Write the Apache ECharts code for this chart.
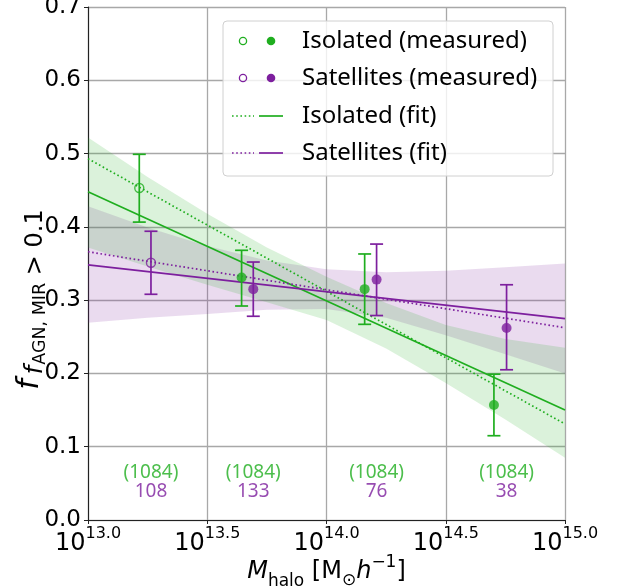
<!DOCTYPE html>
<html><head><meta charset="utf-8">
<script src="https://cdn.jsdelivr.net/npm/echarts@6/dist/echarts.min.js"></script>
<style>html,body{margin:0;padding:0;background:#fff}#c{width:624px;height:588px}</style>
</head><body><div id="c"></div>
<script>
// ---- data (log10 halo mass, fraction) ----
const xTicks = [13.0, 13.5, 14.0, 14.5, 15.0];
const yTicks = [0.0, 0.1, 0.2, 0.3, 0.4, 0.5, 0.6, 0.7];

const isoX  = [13.215, 13.644, 14.160, 14.702];
const isoY  = [0.453, 0.331, 0.315, 0.157];
const isoLo = [0.4065, 0.292, 0.267, 0.115];
const isoHi = [0.499, 0.368, 0.363, 0.199];

const satX  = [13.264, 13.693, 14.210, 14.755];
const satY  = [0.351, 0.315, 0.328, 0.262];
const satLo = [0.308, 0.278, 0.279, 0.205];
const satHi = [0.394, 0.352, 0.3765, 0.321];

const openFlag = [true, false, false, false];

const fitX = [13.0, 15.0];
const isoFitAll = [0.493, 0.131];   // dotted
const isoFit    = [0.448, 0.150];   // solid
const satFitAll = [0.366, 0.2624];  // dotted
const satFit    = [0.348, 0.2747];  // solid

const bandX     = [13.0, 13.25, 13.5, 13.75, 14.0, 14.25, 14.5, 14.75, 15.0];
const isoBandHi = [0.522, 0.468, 0.418, 0.372, 0.332, 0.296, 0.266, 0.247, 0.235];
const isoBandLo = [0.372, 0.346, 0.321, 0.297, 0.273, 0.234, 0.187, 0.137, 0.085];
const satBandHi = [0.428, 0.399, 0.374, 0.354, 0.342, 0.338, 0.340, 0.345, 0.350];
const satBandLo = [0.269, 0.276, 0.281, 0.287, 0.288, 0.276, 0.252, 0.226, 0.200];

const isoCounts = ['(1084)', '(1084)', '(1084)', '(1084)'];
const satCounts = ['108', '133', '76', '38'];

const legendLabels = ['Isolated (measured)', 'Satellites (measured)', 'Isolated (fit)', 'Satellites (fit)'];

// ---- styles ----
const GREEN = '#1fae1f';
const PURPLE = '#7d1f9e';
const isoCountY = 0.0645, satCountY = 0.0386;

const chart = echarts.init(document.getElementById('c'), null, {renderer: 'canvas'});

function bandSeries(xs, lo, hi, color, opacity) {
  return {
    type: 'custom', silent: true, z: 1, clip: true,
    data: [0],
    renderItem: function (params, api) {
      const pts = [];
      for (let i = 0; i < xs.length; i++) pts.push(api.coord([xs[i], hi[i]]));
      for (let i = xs.length - 1; i >= 0; i--) pts.push(api.coord([xs[i], lo[i]]));
      return {type: 'polygon', shape: {points: pts}, style: {fill: color, opacity: opacity}};
    }
  };
}
function lineSeries(ys, color, dotted) {
  return {
    type: 'line', silent: true, z: 3, symbol: 'none',
    data: fitX.map((x, i) => [x, ys[i]]),
    lineStyle: {color: color, width: 1.7, type: dotted ? [1.6, 2.6] : 'solid'}
  };
}
function errSeries(xs, lo, hi, color) {
  return {
    type: 'custom', silent: true, z: 4,
    data: xs.map((x, i) => [x, lo[i], hi[i]]),
    encode: {x: 0, y: [1, 2]},
    renderItem: function (params, api) {
      const x = api.value(0);
      const a = api.coord([x, api.value(1)]);
      const b = api.coord([x, api.value(2)]);
      const w = 6.5, st = {stroke: color, lineWidth: 1.7};
      return {type: 'group', children: [
        {type: 'line', shape: {x1: a[0], y1: a[1], x2: b[0], y2: b[1]}, style: st},
        {type: 'line', shape: {x1: a[0] - w, y1: a[1], x2: a[0] + w, y2: a[1]}, style: st},
        {type: 'line', shape: {x1: b[0] - w, y1: b[1], x2: b[0] + w, y2: b[1]}, style: st}
      ]};
    }
  };
}
function pointSeries(xs, ys, color) {
  return {
    type: 'scatter', silent: true, z: 5,
    data: xs.map((x, i) => ({
      value: [x, ys[i]],
      symbolSize: openFlag[i] ? 9 : 10,
      itemStyle: openFlag[i] ? {color: 'rgba(0,0,0,0)', borderColor: color, borderWidth: 1.4} : {color: color}
    }))
  };
}
function countSeries(labels, yv, color) {
  return {
    type: 'scatter', silent: true, z: 6, symbolSize: 0,
    data: satX.map((x, i) => ({value: [x, yv], name: labels[i]})),
    label: {show: true, position: 'inside', formatter: p => p.name, color: color,
      fontFamily: 'Noto Sans', fontSize: 19}
  };
}

// ---- legend (graphic) ----
const L = {x: 223, y: 21, w: 330, h: 155, rows: [41, 78, 116, 153], m1: 243, m2: 271, tx: 302};
const LZ = 100;
const legendChildren = [
  {type: 'rect', z: LZ, shape: {x: L.x, y: L.y, width: L.w, height: L.h, r: 4},
   style: {fill: 'rgba(255,255,255,0.8)', stroke: '#d0d0d0', lineWidth: 1}}
];
const legendColors = [GREEN, PURPLE, GREEN, PURPLE];
legendLabels.forEach((t, i) => {
  const cy = L.rows[i], col = legendColors[i];
  if (i < 2) {
    legendChildren.push({type: 'circle', z: LZ + 1, shape: {cx: L.m1, cy: cy, r: 3.6}, style: {fill: 'none', stroke: col, lineWidth: 1.3}});
    legendChildren.push({type: 'circle', z: LZ + 1, shape: {cx: L.m2, cy: cy, r: 4.3}, style: {fill: col}});
  } else {
    legendChildren.push({type: 'line', z: LZ + 1, shape: {x1: 232, y1: cy, x2: 254, y2: cy}, style: {stroke: col, lineWidth: 1.6, lineDash: [1.6, 2.6]}});
    legendChildren.push({type: 'line', z: LZ + 1, shape: {x1: 259, y1: cy, x2: 283, y2: cy}, style: {stroke: col, lineWidth: 1.7}});
  }
  legendChildren.push({type: 'text', z: LZ + 1, x: L.tx, y: cy, style: {text: t, fill: '#000', font: '24px "Noto Sans"', textVerticalAlign: 'middle', textAlign: 'left'}});
});

const option = {
  backgroundColor: '#fff',
  animation: false,
  grid: {left: 88, right: 59, top: 7, bottom: 68, containLabel: false, outerBoundsMode: 'none'},
  xAxis: {
    type: 'value', min: xTicks[0], max: xTicks[xTicks.length - 1], interval: 0.5,
    axisLine: {show: true, onZero: false, lineStyle: {color: '#222', width: 1.1}},
    axisTick: {show: true, inside: false, length: 4, lineStyle: {color: '#222'}},
    splitLine: {show: true, lineStyle: {color: '#a8a8a8', width: 1.3}},
    axisLabel: {
      margin: 12, color: '#000', hideOverlap: false,
      formatter: v => '{b|10}{p|' + v.toFixed(1) + '}',
      rich: {
        b: {fontFamily: 'DejaVu Sans', fontSize: 24, lineHeight: 24, padding: [8, 0, 0, 0], verticalAlign: 'bottom', color: '#000'},
        p: {fontFamily: 'DejaVu Sans', fontSize: 16, lineHeight: 16, padding: [0, 0, 14, 0], verticalAlign: 'bottom', color: '#000'}
      }
    },
    name: '{m|M}{sub|halo}{t| [M}{sun|⊙}{h|h}{sup|−1}{t|]}',
    nameLocation: 'middle', nameGap: 48, nameMoveOverlap: false,
    nameTextStyle: {
      rich: {
        m: {fontFamily: 'DejaVu Sans', fontStyle: 'italic', fontSize: 24, lineHeight: 24, padding: [10, 0, 8, 0], verticalAlign: 'bottom', color: '#000'},
        t: {fontFamily: 'DejaVu Sans', fontSize: 24, lineHeight: 24, padding: [10, 0, 8, 0], verticalAlign: 'bottom', color: '#000'},
        h: {fontFamily: 'DejaVu Sans', fontStyle: 'italic', fontSize: 24, lineHeight: 24, padding: [10, 0, 8, 0], verticalAlign: 'bottom', color: '#000'},
        sub: {fontFamily: 'DejaVu Sans', fontSize: 17, lineHeight: 17, padding: [0, 0, 2, 0], verticalAlign: 'bottom', color: '#000'},
        sun: {fontFamily: 'DejaVu Sans', fontSize: 17, lineHeight: 17, padding: [0, 0, 3, 0], verticalAlign: 'bottom', color: '#000'},
        sup: {fontFamily: 'DejaVu Sans', fontSize: 17, lineHeight: 17, padding: [0, 0, 21, 0], verticalAlign: 'bottom', color: '#000'}
      }
    }
  },
  yAxis: {
    type: 'value', min: yTicks[0], max: yTicks[yTicks.length - 1], interval: 0.1,
    axisLine: {show: true, onZero: false, lineStyle: {color: '#222', width: 1.1}},
    axisTick: {show: true, inside: false, length: 4, lineStyle: {color: '#222'}},
    splitLine: {show: true, lineStyle: {color: '#a8a8a8', width: 1.3}},
    axisLabel: {margin: 7, color: '#000', fontFamily: 'DejaVu Sans', fontSize: 23, formatter: v => v.toFixed(1)},
    name: '{f|f}{si|f}{ss|AGN, MIR}{s| > 0.1}',
    nameLocation: 'middle', nameGap: 39, nameRotate: 90, nameMoveOverlap: false,
    nameTextStyle: {
      padding: [0, 72, 0, 0],
      rich: {
        f: {fontFamily: 'DejaVu Sans', fontStyle: 'italic', fontSize: 30, lineHeight: 30, padding: [10, 5, 4, 0], verticalAlign: 'bottom', color: '#000'},
        si: {fontFamily: 'DejaVu Sans', fontStyle: 'italic', fontSize: 24, lineHeight: 24, padding: [0, 1, 1.5, 0], verticalAlign: 'bottom', color: '#000'},
        s: {fontFamily: 'DejaVu Sans', fontSize: 24, lineHeight: 24, padding: [0, 0, 1.5, 0], verticalAlign: 'bottom', color: '#000'},
        ss: {fontFamily: 'DejaVu Sans', fontSize: 17.5, lineHeight: 17.5, padding: [0, 0, 0, 0], verticalAlign: 'bottom', color: '#000'}
      }
    }
  },
  graphic: [{type: 'group', z: 100, children: legendChildren}],
  series: [
    bandSeries(bandX, satBandLo, satBandHi, PURPLE, 0.16),
    bandSeries(bandX, isoBandLo, isoBandHi, GREEN, 0.16),
    lineSeries(isoFitAll, GREEN, true),
    lineSeries(isoFit, GREEN, false),
    lineSeries(satFitAll, PURPLE, true),
    lineSeries(satFit, PURPLE, false),
    errSeries(isoX, isoLo, isoHi, GREEN),
    errSeries(satX, satLo, satHi, PURPLE),
    pointSeries(isoX, isoY, GREEN),
    pointSeries(satX, satY, PURPLE),
    countSeries(isoCounts, isoCountY, GREEN),
    countSeries(satCounts, satCountY, PURPLE)
  ]
};
chart.setOption(option);
</script>
</body></html>
